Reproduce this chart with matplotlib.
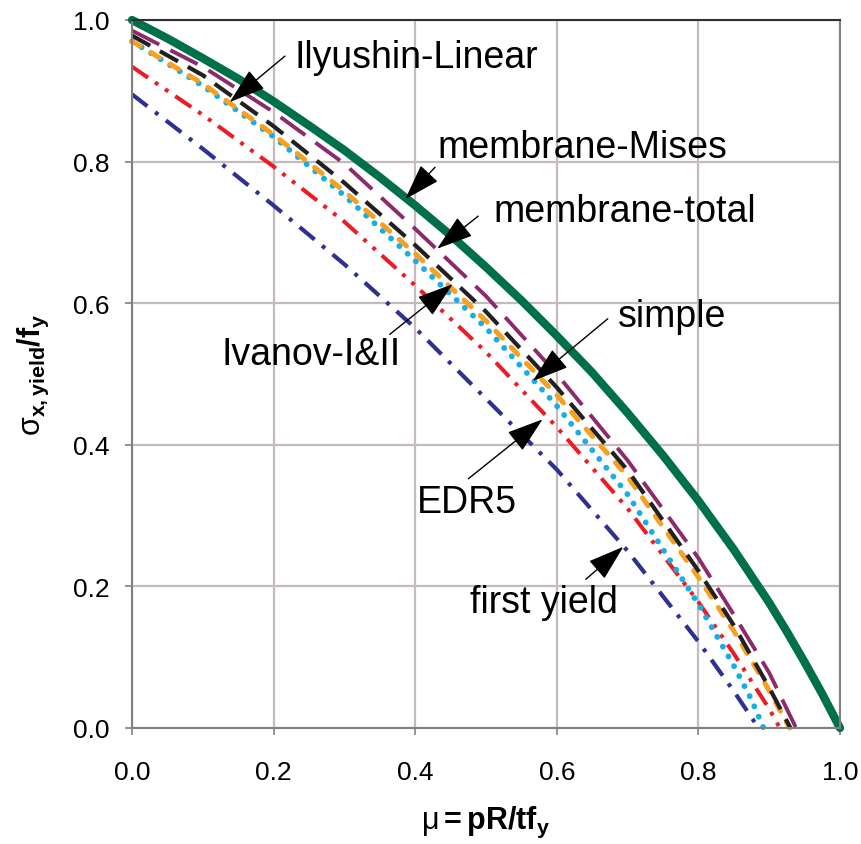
import numpy as np
import matplotlib
matplotlib.use("Agg")
import matplotlib.pyplot as plt

plt.rcParams['font.family'] = ['Liberation Sans', 'DejaVu Sans']
plt.rcParams['mathtext.fontset'] = 'custom'
plt.rcParams['mathtext.rm'] = 'Liberation Sans'
plt.rcParams['mathtext.it'] = 'Liberation Sans:italic'
plt.rcParams['mathtext.bf'] = 'Liberation Sans:bold'
plt.rcParams['lines.scale_dashes'] = False

# curves: mu = pR/tfy, sigma = sigma_x,yield/fy
mises_mu = [0.0, 0.05, 0.1, 0.15, 0.2, 0.25, 0.3, 0.35, 0.4, 0.45, 0.5, 0.55, 0.6,
            0.65, 0.7, 0.75, 0.8, 0.85, 0.9, 0.925, 0.95, 0.975, 1.0]
mises_sig = [1.0, 0.974, 0.946, 0.917, 0.885, 0.851, 0.816, 0.778, 0.738, 0.696, 0.651,
             0.604, 0.554, 0.502, 0.445, 0.385, 0.321, 0.252, 0.177, 0.136, 0.093, 0.048, 0.0]

purple_mu = [0.0, 0.1, 0.2, 0.3, 0.4, 0.5, 0.6, 0.7, 0.8, 0.85, 0.9, 0.938]
purple_sig = [0.985, 0.934, 0.870, 0.797, 0.705, 0.610, 0.500, 0.378, 0.240, 0.160, 0.078, 0.0]

black_mu = [0.0, 0.1, 0.2, 0.3, 0.4, 0.5, 0.6, 0.7, 0.8, 0.85, 0.9, 0.93]
black_sig = [0.978, 0.922, 0.850, 0.770, 0.682, 0.588, 0.481, 0.364, 0.222, 0.145, 0.057, 0.0]

orange_mu = [0.0, 0.1, 0.2, 0.3, 0.4, 0.5, 0.6, 0.7, 0.8, 0.85, 0.9, 0.929]
orange_sig = [0.970, 0.910, 0.838, 0.758, 0.670, 0.575, 0.470, 0.355, 0.213, 0.137, 0.053, 0.0]

cyan_mu = [0.0, 0.1, 0.2, 0.3, 0.4, 0.5, 0.6, 0.7, 0.8, 0.85, 0.874, 0.892]
cyan_sig = [0.970, 0.907, 0.835, 0.752, 0.660, 0.565, 0.455, 0.330, 0.175, 0.088, 0.042, 0.0]

red_mu = [0.0, 0.05, 0.1, 0.2, 0.3, 0.4, 0.5, 0.6, 0.7, 0.8, 0.85, 0.9, 0.915]
red_sig = [0.934, 0.900, 0.866, 0.793, 0.715, 0.625, 0.531, 0.425, 0.310, 0.178, 0.105, 0.027, 0.0]

navy_mu = [0.0, 0.1, 0.2, 0.3, 0.4, 0.5, 0.6, 0.7, 0.8, 0.85, 0.885]
navy_sig = [0.895, 0.818, 0.738, 0.655, 0.565, 0.465, 0.365, 0.250, 0.122, 0.052, 0.0]

ticks = [0.0, 0.2, 0.4, 0.6, 0.8, 1.0]

# label text, text anchor (left, baseline), arrow tail, arrow tip
labels = ['Ilyushin-Linear', 'membrane-Mises', 'membrane-total', 'Ivanov-I&II',
          'simple', 'EDR5', 'first yield']
label_xy = [(0.230, 0.934), (0.431, 0.806), (0.510, 0.716), (0.127, 0.514),
            (0.686, 0.568), (0.403, 0.305), (0.477, 0.164)]
arrow_tail = [(0.216, 0.949), (0.428, 0.792), (0.489, 0.723), (0.364, 0.556),
              (0.672, 0.578), (0.475, 0.352), (0.641, 0.210)]
arrow_tip = [(0.138, 0.884), (0.386, 0.747), (0.431, 0.677), (0.453, 0.627),
             (0.566, 0.490), (0.580, 0.436), (0.694, 0.256)]

fig = plt.figure(figsize=(8.61, 8.45), dpi=100)
ax = fig.add_axes([132 / 861, 116 / 845, 708 / 861, 708 / 845])

ax.plot(navy_mu, navy_sig, color='#2e3192', lw=3.0, dashes=(14, 7, 2.8, 7), clip_on=False)
ax.plot(red_mu, red_sig, color='#ed1c24', lw=2.9, dashes=(14, 6, 2.8, 6, 2.8, 6), clip_on=False)
ax.plot(cyan_mu, cyan_sig, color='#17aee8', lw=4.2, dashes=(0.1, 8.0),
        dash_capstyle='round', clip_on=False)
ax.plot(orange_mu, orange_sig, color='#f7a01e', lw=3.6, dashes=(7, 9),
        dash_capstyle='round', clip_on=False)
ax.plot(black_mu, black_sig, color='#231f20', lw=3.0, dashes=(15, 8), clip_on=False)
ax.plot(purple_mu, purple_sig, color='#8d2a6e', lw=2.8, dashes=(22, 9), clip_on=False)
ax.plot(mises_mu, mises_sig, color='#00704a', lw=6.0, solid_capstyle='round', clip_on=False)

for txt, pos, tail, tip in zip(labels, label_xy, arrow_tail, arrow_tip):
    ax.text(pos[0], pos[1], txt, fontsize=27, ha='left', va='baseline', color='black')
    ax.annotate('', xy=tip, xytext=tail,
                arrowprops=dict(arrowstyle='-|>,head_length=2.3,head_width=0.75',
                                color='black', lw=1.0, shrinkA=0, shrinkB=0))

ax.set_xlim(0, 1)
ax.set_ylim(0, 1)
ax.set_xticks(ticks)
ax.set_yticks(ticks)
ax.set_xticklabels(['%.1f' % t for t in ticks])
ax.set_yticklabels(['%.1f' % t for t in ticks])
ax.grid(True, color='#c4bcbc', lw=1.6)
ax.set_axisbelow(True)
ax.tick_params(axis='both', labelsize=19, length=5, width=1.2, color='#808080',
               direction='out')
ax.tick_params(axis='x', pad=18)
ax.tick_params(axis='y', pad=11)
for s in ax.spines.values():
    s.set_color('#808080')
    s.set_linewidth(1.5)
ax.spines['top'].set_color('#303030')

ax.set_xlabel(r'$\mathrm{\mu}\mathbf{=pR/tf}_{\mathbf{y}}$', fontsize=22, labelpad=14)
ax.set_ylabel(r'$\mathrm{\sigma}_{\mathbf{x,yield}}\mathbf{/f}_{\mathbf{y}}$', fontsize=22,
              labelpad=16)

fig.savefig('out.png', dpi=100)
